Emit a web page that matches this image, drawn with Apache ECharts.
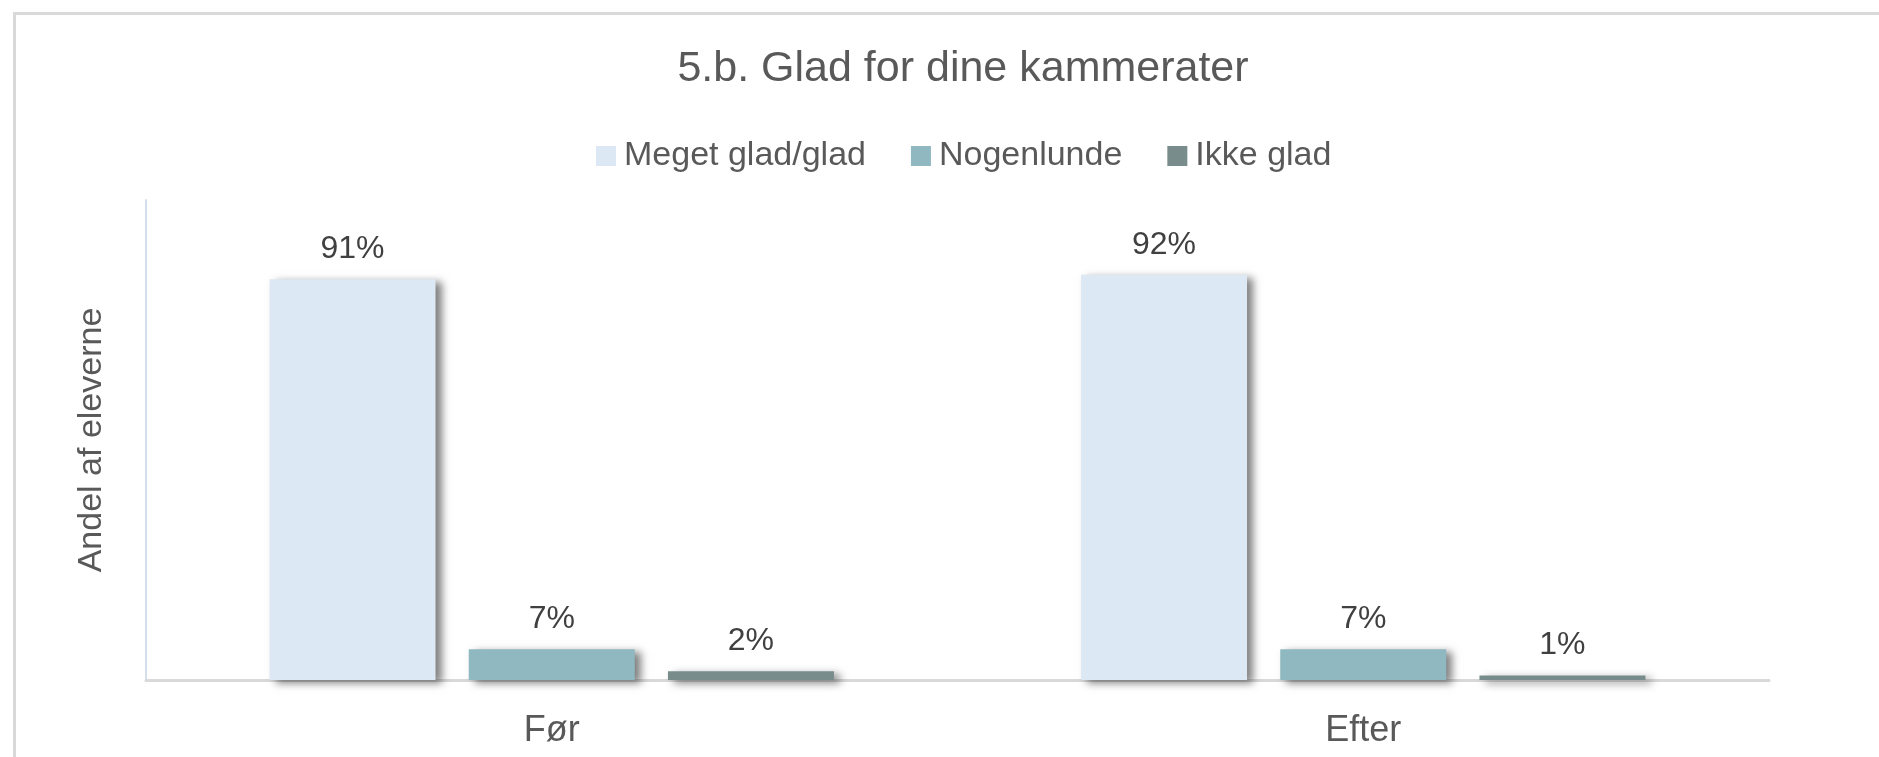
<!DOCTYPE html>
<html>
<head>
<meta charset="utf-8">
<title>5.b. Glad for dine kammerater</title>
<script src="https://cdn.jsdelivr.net/npm/echarts@6/dist/echarts.min.js"></script>
<style>
    html, body { margin: 0; padding: 0; background: #fff; }
    #chart { width: 1879px; height: 757px; }
</style>
</head>
<body>
<div id="chart"></div>
<script>
// data
var categories = ['Før', 'Efter'];
var seriesNames = ['Meget glad/glad', 'Nogenlunde', 'Ikke glad'];
var megetGlad = [91, 92];
var nogenlunde = [7, 7];
var ikkeGlad = [2, 1];
var colors = ['#dce8f3', '#8fb8c1', '#788c8c'];

var fontFamily = '"Liberation Sans", Arial, sans-serif';
var myChart = echarts.init(document.getElementById('chart'));

// one bar series
function makeSeries(name, data, color) {
    return {
        name: name,
        type: 'bar',
        data: data,
        barWidth: 166,
        barGap: '20%',
        itemStyle: {
            color: color,
            shadowColor: 'rgba(0, 0, 0, 0.5)',
            shadowBlur: 8,
            shadowOffsetX: 6,
            shadowOffsetY: 3
        },
        label: {
            show: true,
            position: 'top',
            distance: 14,
            formatter: '{c}%',
            color: '#404040',
            fontSize: 32,
            fontFamily: fontFamily
        }
    };
}

var option = {
    backgroundColor: '#ffffff',
    animation: false,
    color: colors,
    title: {
        text: '5.b. Glad for dine kammerater',
        left: 958,
        textAlign: 'center',
        top: 43,
        textStyle: {
            color: '#595959',
            fontSize: 43,
            fontWeight: 'normal',
            fontFamily: fontFamily
        }
    },
    legend: {
        data: seriesNames,
        left: 591,
        top: 134,
        itemWidth: 20,
        itemHeight: 20,
        itemGap: 45,
        icon: 'rect',
        textStyle: {
            color: '#595959',
            fontSize: 34,
            fontFamily: fontFamily,
            padding: [0, 0, 0, 3]
        }
    },
    grid: {
        left: 146,
        right: 110,
        top: 200,
        bottom: 77
    },
    xAxis: {
        type: 'category',
        data: categories,
        axisTick: { show: false },
        axisLine: {
            lineStyle: { color: '#d9d9d9', width: 3 }
        },
        axisLabel: {
            color: '#595959',
            fontSize: 36,
            fontFamily: fontFamily,
            margin: 33
        }
    },
    yAxis: {
        type: 'value',
        min: 0,
        max: 109,
        name: 'Andel af eleverne',
        nameLocation: 'middle',
        nameGap: 37,
        nameRotate: 90,
        nameTextStyle: {
            color: '#595959',
            fontSize: 34,
            fontFamily: fontFamily
        },
        axisLine: {
            show: true,
            lineStyle: { color: '#d3dfeb', width: 2 }
        },
        axisTick: { show: false },
        axisLabel: { show: false },
        splitLine: { show: false }
    },
    // chart frame (only top and left edge visible)
    graphic: [{
        type: 'rect',
        left: 12,
        top: 11,
        shape: { width: 3000, height: 3000 },
        style: { fill: 'none', stroke: '#d9d9d9', lineWidth: 3 },
        z: -1
    }],
    series: [
        makeSeries(seriesNames[0], megetGlad, colors[0]),
        makeSeries(seriesNames[1], nogenlunde, colors[1]),
        makeSeries(seriesNames[2], ikkeGlad, colors[2])
    ]
};

myChart.setOption(option);
</script>
</body>
</html>
